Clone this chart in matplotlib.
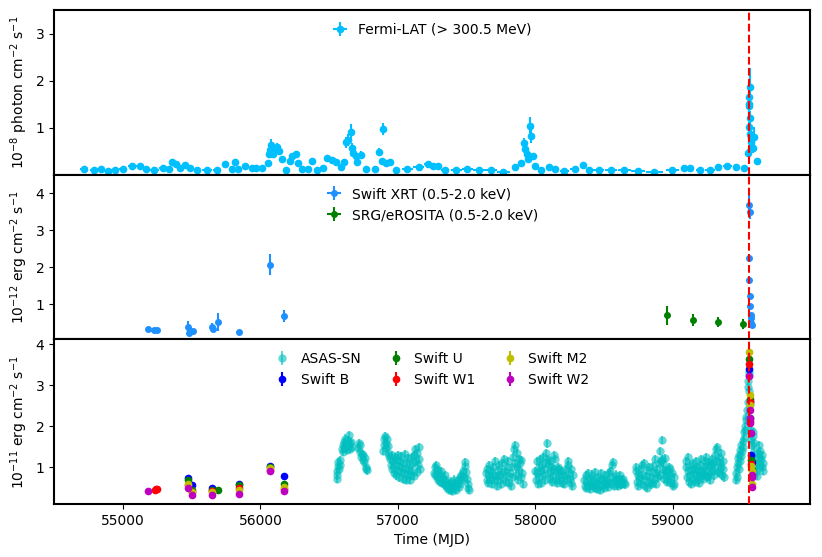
import matplotlib

matplotlib.use("Agg")
import matplotlib.pyplot as plt

# ---- Fermi-LAT (> 300.5 MeV), 1e-8 photon cm^-2 s^-1
FERMI_MJD = [54716, 54788, 54837, 54890, 54943, 55001, 55067, 55120, 55168, 55229,
             55289, 55332, 55354, 55386, 55417, 55451, 55490, 55538, 55611, 55684,
             55742, 55790, 55816, 55840, 55887, 55935, 55967, 56010, 56051, 56065,
             56070, 56075, 56090, 56099, 56119, 56136, 56155, 56189, 56216, 56232,
             56257, 56274, 56305, 56348, 56372, 56414, 56455, 56486, 56523, 56547,
             56583, 56607, 56620, 56639, 56656, 56663, 56675, 56692, 56704, 56728,
             56769, 56830, 56861, 56885, 56890, 56910, 56939, 56982, 57067, 57150,
             57215, 57255, 57291, 57343, 57424, 57505, 57587, 57673, 57766, 57848,
             57891, 57914, 57926, 57938, 57945, 57962, 57969, 57979, 57997, 58042,
             58095, 58144, 58210, 58284, 58344, 58390, 58459, 58550, 58647, 58748,
             58864, 58996, 59080, 59124, 59196, 59271, 59329, 59396, 59461, 59515,
             59545, 59550, 59552, 59554, 59556, 59558, 59560, 59563, 59566, 59570,
             59585, 59590, 59614]
FERMI_FLUX = [0.13, 0.10, 0.13, 0.08, 0.11, 0.13, 0.19, 0.19, 0.13, 0.11,
              0.15, 0.13, 0.28, 0.23, 0.15, 0.20, 0.14, 0.10, 0.09, 0.11,
              0.23, 0.13, 0.26, 0.12, 0.18, 0.15, 0.15, 0.15, 0.24, 0.45,
              0.53, 0.63, 0.45, 0.55, 0.58, 0.50, 0.33, 0.11, 0.30, 0.40,
              0.44, 0.24, 0.13, 0.13, 0.30, 0.11, 0.15, 0.35, 0.31, 0.27,
              0.16, 0.27, 0.69, 0.73, 0.90, 0.57, 0.46, 0.40, 0.26, 0.42,
              0.13, 0.12, 0.49, 0.30, 0.97, 0.25, 0.28, 0.11, 0.13, 0.16,
              0.22, 0.19, 0.19, 0.11, 0.10, 0.12, 0.09, 0.09, 0.06, 0.16,
              0.24, 0.67, 0.55, 0.44, 0.34, 1.04, 0.83, 0.40, 0.18, 0.09,
              0.16, 0.12, 0.07, 0.13, 0.21, 0.09, 0.09, 0.09, 0.09, 0.08,
              0.06, 0.09, 0.15, 0.14, 0.10, 0.09, 0.16, 0.18, 0.17, 0.14,
              0.47, 1.01, 1.45, 1.65, 1.50, 1.86, 1.20, 0.86, 0.81, 0.69,
              0.56, 0.81, 0.30]
FERMI_XERR = [30, 30, 25, 25, 28, 30, 30, 25, 25, 30,
              25, 15, 12, 15, 15, 18, 22, 25, 35, 30,
              15, 15, 10, 12, 20, 20, 15, 20, 10, 5,
              5, 5, 5, 5, 6, 6, 6, 12, 8, 8,
              8, 8, 15, 15, 12, 15, 15, 12, 12, 10,
              10, 6, 5, 5, 5, 5, 5, 5, 5, 6,
              15, 20, 6, 6, 6, 8, 10, 20, 40, 40,
              25, 20, 20, 30, 40, 40, 40, 45, 45, 20,
              12, 4, 4, 4, 4, 4, 4, 4, 10, 20,
              20, 20, 35, 30, 15, 25, 40, 45, 45, 50,
              60, 50, 20, 20, 30, 35, 25, 30, 25, 18,
              2, 2, 2, 2, 2, 2, 2, 2, 2, 2,
              3, 3, 5]
FERMI_YERR = [0.03, 0.03, 0.03, 0.03, 0.03, 0.03, 0.03, 0.03, 0.03, 0.03,
              0.03, 0.03, 0.04, 0.04, 0.03, 0.03, 0.03, 0.03, 0.03, 0.03,
              0.04, 0.03, 0.04, 0.03, 0.03, 0.03, 0.03, 0.03, 0.04, 0.08,
              0.09, 0.12, 0.08, 0.09, 0.09, 0.08, 0.07, 0.04, 0.06, 0.07,
              0.07, 0.05, 0.03, 0.03, 0.05, 0.03, 0.03, 0.05, 0.05, 0.05,
              0.04, 0.05, 0.12, 0.13, 0.18, 0.10, 0.09, 0.08, 0.06, 0.08,
              0.03, 0.03, 0.08, 0.06, 0.12, 0.05, 0.05, 0.03, 0.03, 0.03,
              0.03, 0.03, 0.03, 0.03, 0.03, 0.03, 0.03, 0.03, 0.03, 0.03,
              0.05, 0.12, 0.10, 0.08, 0.07, 0.18, 0.15, 0.07, 0.04, 0.03,
              0.03, 0.03, 0.03, 0.03, 0.04, 0.03, 0.03, 0.03, 0.03, 0.03,
              0.03, 0.03, 0.03, 0.03, 0.03, 0.03, 0.03, 0.03, 0.03, 0.03,
              0.07, 0.12, 0.20, 0.25, 0.20, 0.40, 0.15, 0.15, 0.12, 0.12,
              0.10, 0.20, 0.05]

# ---- X-ray, 1e-12 erg cm^-2 s^-1
XRT_MJD = [55185, 55229, 55246, 55475, 55477, 55487, 55506, 55647, 55652, 55691,
           55846, 56070, 56172, 59553, 59555, 59556, 59557, 59558, 59560, 59564,
           59567, 59570, 59575]
XRT_FLUX = [0.32, 0.30, 0.31, 0.39, 0.22, 0.27, 0.28, 0.39, 0.34, 0.52,
            0.24, 2.07, 0.68, 2.25, 3.69, 1.65, 1.22, 3.50, 0.95, 0.72,
            0.63, 0.50, 0.45]
XRT_ERR = [0.04, 0.04, 0.04, 0.15, 0.08, 0.06, 0.05, 0.10, 0.10, 0.25,
           0.04, 0.28, 0.16, 0.10, 0.30, 0.08, 0.06, 0.20, 0.05, 0.05,
           0.05, 0.05, 0.05]
EROSITA_MJD = [58955, 59144, 59324, 59510]
EROSITA_FLUX = [0.70, 0.57, 0.52, 0.47]
EROSITA_ERR = [0.25, 0.17, 0.13, 0.13]

# ---- optical / UV, 1e-11 erg cm^-2 s^-1
ASASSN_MJD = [
    56553, 56556, 56560, 56563, 56567, 56571, 56575, 56580, 56592, 56598, 56603, 56608,
    56613, 56618, 56623, 56628, 56633, 56638, 56643, 56648, 56653, 56658, 56663,
    56712, 56717, 56722, 56727, 56732, 56737, 56742, 56748, 56753, 56758, 56765, 56770, 56776,
    56890, 56895, 56900, 56905, 56910, 56915, 56920, 56925, 56930, 56935, 56945, 56950,
    56955, 56960, 56965, 56970, 56975, 56980, 56985, 56990, 56995, 57000, 57005, 57010,
    57015, 57020, 57025, 57030, 57035, 57040, 57045, 57050, 57055, 57060, 57065, 57070,
    57075, 57080, 57085, 57090, 57095, 57100, 57105, 57110, 57115, 57120, 57125, 57130,
    57135, 57140, 57145, 57150, 57155, 57160,
    57262, 57267, 57272, 57277, 57282, 57288, 57293, 57298, 57304, 57310, 57316, 57322,
    57328, 57334, 57340, 57346, 57352, 57358, 57364, 57370, 57376, 57382, 57388, 57394,
    57400, 57406, 57412, 57418, 57424, 57430, 57436, 57442, 57448, 57454, 57460, 57466,
    57472, 57478, 57484, 57490, 57494, 57500, 57506, 57512, 57516,
    57640, 57645, 57650, 57655, 57660, 57665, 57670, 57676, 57682, 57688, 57694, 57700,
    57706, 57712, 57718, 57724, 57730, 57736, 57742, 57748, 57754, 57760, 57766, 57772,
    57778, 57784, 57790, 57796, 57802, 57808, 57814, 57820, 57826, 57832, 57838, 57843,
    57848, 57853, 57858, 57863, 57868, 57873, 57878, 57883, 57888, 57893, 57898, 57903, 57908,
    57998, 58003, 58008, 58013, 58018, 58023, 58028, 58033, 58038, 58043, 58048, 58053,
    58058, 58063, 58068, 58073, 58078, 58083, 58088, 58093, 58098, 58103, 58108, 58113,
    58118, 58123, 58128, 58133, 58138, 58143, 58148, 58153, 58158, 58163, 58168, 58173,
    58178, 58185, 58192, 58200, 58207, 58214, 58221, 58228, 58235, 58240, 58245, 58250,
    58255, 58260, 58265, 58270,
    58352, 58358, 58364, 58370, 58376, 58382, 58388, 58394, 58400, 58406, 58412, 58418,
    58424, 58430, 58436, 58442, 58448, 58454, 58460, 58466, 58472, 58478, 58484, 58490,
    58496, 58502, 58508, 58514, 58520, 58526, 58532, 58538, 58544, 58550, 58556, 58561,
    58566, 58572, 58578, 58584, 58590, 58596, 58602, 58608, 58614, 58620, 58626, 58632,
    58638, 58644, 58650,
    58728, 58733, 58738, 58743, 58748, 58754, 58760, 58766, 58772, 58778, 58784, 58790,
    58796, 58802, 58808, 58814, 58820, 58826, 58832, 58838, 58844, 58850, 58856, 58862,
    58868, 58874, 58880, 58886, 58892, 58898, 58904, 58909, 58914, 58918, 58922, 58926,
    58930, 58935, 58940, 58945, 58950, 58955, 58960, 58965, 58970, 58975, 58980, 58986,
    58992, 58998, 59004, 59008,
    59092, 59097, 59102, 59107, 59112, 59117, 59122, 59127, 59132, 59137, 59142, 59147,
    59152, 59157, 59162, 59167, 59172, 59177, 59182, 59187, 59192, 59197, 59202, 59207,
    59212, 59217, 59222, 59227, 59232, 59237, 59242, 59247, 59252, 59257, 59262, 59267,
    59272, 59277, 59282, 59287, 59292, 59297, 59302, 59307, 59312, 59317, 59322, 59327,
    59332, 59337, 59342, 59347, 59352, 59357, 59362, 59367, 59372,
    59456, 59460, 59463, 59466, 59470, 59474, 59478, 59482, 59486, 59490, 59494, 59498,
    59502, 59506, 59510, 59514, 59518, 59522, 59526, 59530, 59534, 59538, 59542, 59546,
    59549, 59552, 59554, 59556, 59558, 59562, 59566, 59570, 59575, 59580, 59584, 59588,
    59592, 59596, 59600, 59604, 59608, 59612, 59616, 59620, 59624, 59628, 59632, 59636,
    59640, 59644, 59648, 59652, 59656]
ASASSN_FLUX = [
    0.72, 0.80, 0.90, 1.02, 1.12, 0.95, 1.18, 1.05, 1.45, 1.55, 1.38, 1.62,
    1.48, 1.70, 1.55, 1.42, 1.66, 1.52, 1.78, 1.60, 1.45, 1.62, 1.50,
    1.48, 1.60, 1.55, 1.38, 1.25, 1.32, 1.18, 1.30, 1.12, 1.22, 1.00, 0.95, 0.92,
    1.40, 1.55, 1.68, 1.75, 1.60, 1.48, 1.70, 1.35, 1.52, 1.28, 1.20, 1.05,
    1.30, 0.95, 1.15, 0.85, 1.25, 1.05, 0.80, 1.18, 0.92, 1.30, 1.02, 0.75,
    1.15, 0.88, 1.28, 0.98, 0.72, 1.10, 0.85, 1.32, 0.95, 0.70, 1.12, 0.82,
    1.22, 0.92, 0.68, 1.05, 0.80, 1.25, 0.90, 1.10, 0.78, 1.30, 1.45, 1.15,
    0.88, 1.35, 1.05, 1.50, 1.20, 0.95,
    0.85, 1.00, 0.80, 1.05, 0.75, 0.92, 0.70, 0.85, 0.65, 0.78, 0.90, 0.62,
    0.72, 0.58, 0.80, 0.55, 0.68, 0.50, 0.62, 0.45, 0.58, 0.48, 0.65, 0.42,
    0.55, 0.70, 0.50, 0.62, 0.45, 0.58, 0.68, 0.52, 0.75, 0.60, 0.82, 0.68,
    0.90, 0.75, 1.02, 1.12, 0.88, 0.72, 0.60, 0.50, 0.45,
    0.85, 0.70, 0.95, 0.62, 0.80, 1.05, 0.72, 0.90, 0.60, 0.82, 1.00, 0.68,
    1.15, 0.78, 0.55, 0.92, 0.70, 1.05, 0.80, 0.60, 0.88, 1.10, 0.72, 1.20,
    0.90, 0.65, 1.00, 0.78, 1.15, 0.62, 0.85, 0.55, 1.00, 0.75, 1.25, 1.45,
    1.55, 1.10, 0.80, 1.35, 1.00, 0.70, 1.20, 0.92, 1.10, 0.75, 1.18, 0.85, 0.60,
    0.90, 0.70, 1.15, 0.85, 0.60, 1.00, 0.75, 1.20, 0.90, 0.62, 1.05, 0.80,
    1.25, 0.95, 0.70, 1.10, 1.35, 1.58, 1.20, 0.85, 1.05, 0.72, 1.15, 0.90,
    0.65, 1.00, 0.78, 1.30, 0.95, 1.20, 0.70, 0.88, 0.62, 1.00, 0.80, 0.95,
    0.68, 0.90, 0.62, 0.82, 0.60, 0.78, 0.95, 0.70, 1.05, 1.15, 0.85, 0.72,
    0.95, 0.62, 0.55, 0.80,
    0.70, 0.55, 0.80, 0.50, 0.65, 0.85, 0.55, 0.72, 0.48, 0.62, 0.82, 0.55,
    0.70, 0.50, 0.88, 0.62, 0.48, 0.75, 0.58, 0.45, 0.68, 0.85, 0.55, 0.72,
    0.50, 0.65, 0.80, 0.58, 0.70, 0.52, 0.85, 0.65, 0.90, 0.60, 1.05, 1.12,
    0.75, 0.55, 0.68, 0.82, 0.60, 0.72, 0.55, 0.68, 0.80, 0.58, 0.70, 0.60,
    0.72, 0.62, 0.58,
    0.90, 1.00, 0.65, 0.80, 0.55, 0.75, 0.95, 0.60, 0.82, 1.05, 0.70, 1.10,
    0.55, 0.78, 0.50, 0.92, 0.65, 1.00, 0.75, 0.58, 0.88, 0.62, 1.02, 0.72,
    1.20, 0.85, 0.60, 0.95, 0.75, 1.10, 0.80, 1.40, 1.15, 1.67, 1.20, 0.95,
    1.10, 0.72, 0.90, 1.22, 0.82, 0.65, 0.92, 0.70, 1.00, 0.78, 0.95, 0.62,
    0.85, 0.55, 0.75, 0.60,
    1.00, 1.15, 0.75, 1.25, 0.90, 0.65, 1.05, 0.80, 0.60, 0.92, 0.72, 1.10,
    0.85, 0.65, 0.95, 1.15, 0.78, 1.00, 0.70, 0.88, 0.62, 1.05, 0.80, 1.20,
    0.90, 0.72, 1.00, 0.80, 1.15, 1.25, 0.92, 0.75, 1.05, 0.78, 1.12, 0.88,
    0.70, 1.05, 1.20, 0.90, 1.10, 0.80, 1.30, 1.00, 1.45, 1.50, 1.15, 0.90,
    1.25, 0.85, 1.10, 1.35, 1.00, 0.80, 1.15, 0.95, 0.75,
    0.68, 0.85, 1.00, 0.75, 1.10, 1.22, 0.95, 1.30, 1.15, 1.42, 1.28, 1.55,
    1.40, 1.65, 1.50, 1.85, 1.72, 2.00, 1.90, 2.15, 2.22, 2.40, 2.60, 2.95,
    3.10, 3.25, 3.32, 2.85, 2.55, 2.20, 1.90, 1.70, 1.55, 1.75, 1.85, 1.60,
    1.40, 1.20, 1.05, 0.88, 0.78, 0.95, 1.10, 1.35, 1.55, 1.25, 1.05, 1.40,
    1.20, 1.00, 1.30, 1.10, 0.90]
ASASSN_ERR = 0.1

B_MJD = [55475, 55502, 55645, 55845, 56068, 56172, 59555, 59558, 59570, 59574]
B_FLUX = [0.74, 0.56, 0.50, 0.58, 1.02, 0.78, 3.40, 2.62, 1.30, 1.13]
U_MJD = [55475, 55502, 55645, 55693, 55845, 56068, 56172, 59555, 59558, 59570, 59574]
U_FLUX = [0.69, 0.44, 0.45, 0.44, 0.56, 1.00, 0.60, 3.63, 2.66, 1.17, 0.92]
W1_MJD = [55230, 55240, 55246, 55475, 55502, 55645, 55845, 56068, 56172, 59555,
          59558, 59560, 59570]
W1_FLUX = [0.45, 0.46, 0.47, 0.57, 0.40, 0.42, 0.50, 0.93, 0.48, 3.52,
           2.59, 2.12, 1.08]
M2_MJD = [55475, 55502, 55645, 55845, 56068, 56172, 59555, 59557, 59559, 59570,
          59574, 59576]
M2_FLUX = [0.60, 0.40, 0.40, 0.45, 0.97, 0.52, 3.82, 2.77, 2.51, 1.03,
           0.90, 0.59]
W2_MJD = [55185, 55475, 55502, 55645, 55845, 56068, 56172, 59555, 59559, 59561,
          59563, 59565, 59572, 59574, 59576]
W2_FLUX = [0.42, 0.50, 0.32, 0.31, 0.34, 0.90, 0.41, 3.23, 2.39, 2.19,
           2.09, 1.84, 0.81, 0.75, 0.51]
UV_ERR = 0.03

FLARE_MJD = 59555

fig, axes = plt.subplots(3, 1, sharex=True, figsize=(8.22, 5.57), dpi=100)
fig.subplots_adjust(left=0.066, right=0.986, top=0.982, bottom=0.095, hspace=0)
ax1, ax2, ax3 = axes

ax1.errorbar(FERMI_MJD, FERMI_FLUX, xerr=FERMI_XERR, yerr=FERMI_YERR, fmt="o",
             color="deepskyblue", ms=4.5, elinewidth=1.5, capsize=0,
             label="Fermi-LAT (> 300.5 MeV)")
ax1.set_ylim(0, 3.5)
ax1.set_yticks([1, 2, 3])
ax1.set_ylabel(r"10$^{-8}$ photon cm$^{-2}$ s$^{-1}$")
ax1.legend(loc="upper center", frameon=False, handlelength=1.0)

ax2.errorbar(XRT_MJD, XRT_FLUX, xerr=3, yerr=XRT_ERR, fmt="o", color="dodgerblue",
             ms=4, elinewidth=1.5, capsize=0, label="Swift XRT (0.5-2.0 keV)")
ax2.errorbar(EROSITA_MJD, EROSITA_FLUX, xerr=2, yerr=EROSITA_ERR, fmt="o", color="g",
             ms=4, elinewidth=1.5, capsize=0, label="SRG/eROSITA (0.5-2.0 keV)")
ax2.set_ylim(0.05, 4.5)
ax2.set_yticks([1, 2, 3, 4])
ax2.set_ylabel(r"10$^{-12}$ erg cm$^{-2}$ s$^{-1}$")
ax2.legend(loc="upper center", frameon=False, handlelength=1.0)

ax3.errorbar(ASASSN_MJD, ASASSN_FLUX, yerr=ASASSN_ERR, fmt="o", color="c", alpha=0.6,
             ms=6, mew=0, elinewidth=1.5, capsize=0, label="ASAS-SN")
for mjd, flux, col, lab in [(B_MJD, B_FLUX, "b", "Swift B"),
                            (U_MJD, U_FLUX, "g", "Swift U"),
                            (W1_MJD, W1_FLUX, "r", "Swift W1"),
                            (M2_MJD, M2_FLUX, "y", "Swift M2"),
                            (W2_MJD, W2_FLUX, "m", "Swift W2")]:
    ax3.errorbar(mjd, flux, yerr=UV_ERR, fmt="o", color=col, ms=4.5,
                 elinewidth=1.5, capsize=0, label=lab)
ax3.set_ylim(0.1, 4.12)
ax3.set_yticks([1, 2, 3, 4])
ax3.set_ylabel(r"10$^{-11}$ erg cm$^{-2}$ s$^{-1}$")
ax3.legend(loc="upper center", ncol=3, frameon=False, handlelength=1.0,
           columnspacing=2.0)
ax3.set_xlabel("Time (MJD)")
ax3.set_xlim(54500, 60000)
ax3.set_xticks([55000, 56000, 57000, 58000, 59000])

for ax in axes:
    ax.axvline(FLARE_MJD, color="r", ls="--", lw=1.5, zorder=5)
    for spine in ax.spines.values():
        spine.set_linewidth(1.5)

fig.savefig("out.png", dpi=100)
